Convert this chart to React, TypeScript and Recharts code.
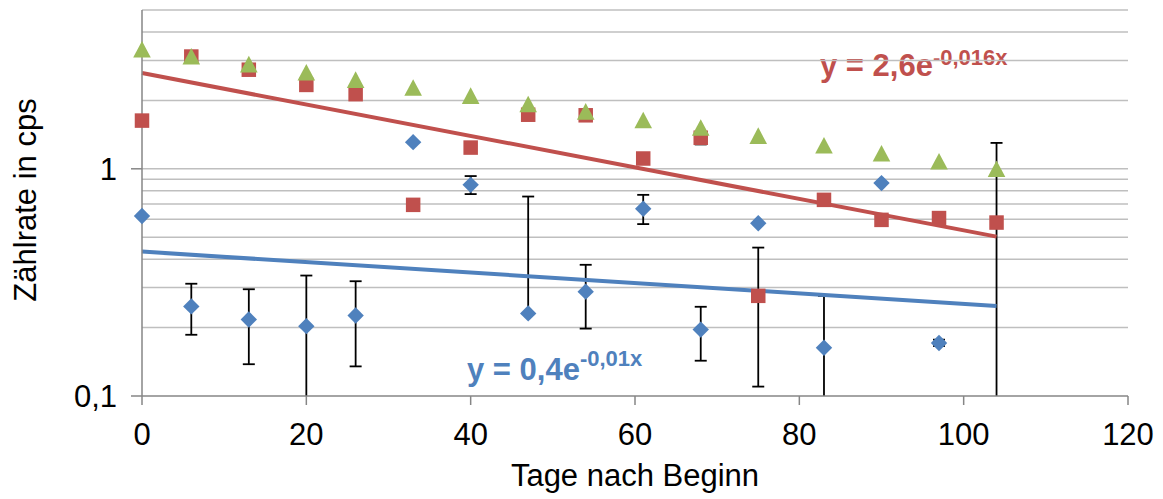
import React from 'react';
import {
  ComposedChart,
  Scatter,
  Line,
  XAxis,
  YAxis,
  ReferenceLine,
  ErrorBar,
  Label,
  Customized,
} from 'recharts';

// ---- data ----
const blueDays = [0, 6, 13, 20, 26, 33, 40, 47, 54, 61, 68, 75, 83, 90, 97];
const blueRate = [0.62, 0.248, 0.217, 0.203, 0.226, 1.31, 0.85, 0.231, 0.288, 0.667, 0.196, 0.576, 0.163, 0.865, 0.171];
const blueLow = [null, 0.186, 0.138, 0.05, 0.135, null, 0.774, null, 0.198, 0.571, 0.143, null, 0.05, null, 0.166];
const blueHigh = [null, 0.312, 0.295, 0.339, 0.32, null, 0.929, 0.755, 0.378, 0.768, 0.247, null, 0.276, null, 0.177];

const redDays = [0, 6, 13, 20, 26, 33, 40, 47, 54, 61, 68, 75, 83, 90, 97, 104];
const redRate = [1.63, 3.12, 2.73, 2.34, 2.13, 0.694, 1.24, 1.73, 1.72, 1.11, 1.37, 0.276, 0.73, 0.596, 0.607, 0.58];
const redLow = [null, null, null, null, null, null, null, null, null, null, 1.28, 0.11, null, null, null, 0.05];
const redHigh = [null, null, null, null, null, null, null, null, null, null, 1.45, 0.45, null, null, null, 1.3];

const greenDays = [0, 6, 13, 20, 26, 33, 40, 47, 54, 61, 68, 75, 83, 90, 97, 104];
const greenRate = [3.36, 3.13, 2.89, 2.66, 2.47, 2.28, 2.1, 1.93, 1.79, 1.64, 1.52, 1.4, 1.27, 1.17, 1.08, 1.0];

const trendDays = [0, 104];
const redTrendRate = [2.64, 0.503];
const blueTrendRate = [0.432, 0.249];

const xTicks = [0, 20, 40, 60, 80, 100, 120];
const yTicks = [0.1, 1];
const gridValues = [0.2, 0.3, 0.4, 0.5, 0.6, 0.7, 0.8, 0.9, 1, 2, 3, 4, 5];

const Y_MIN = 0.1;
const Y_MAX = 5;

const BLUE = '#4F81BD';
const RED = '#C0504D';
const GREEN = '#9BBB59';
const FONT = '"Liberation Sans", Arial, sans-serif';

function build(xs: number[], ys: number[], lows?: (number | null)[], highs?: (number | null)[]) {
  return xs.map((x, i) => {
    const y = ys[i];
    const lo = lows ? lows[i] : null;
    const hi = highs ? highs[i] : null;
    const row: any = { x, y };
    if (lo !== null || hi !== null) {
      const up = hi !== null ? hi - y : 0;
      if (lo !== null && lo < Y_MIN) {
        row.errCapped = [0, up];
        row.errTail = [y - Y_MIN, 0];
      } else {
        row.err = [lo !== null ? y - lo : 0, up];
      }
    }
    return row;
  });
}

const blueData = build(blueDays, blueRate, blueLow, blueHigh);
const redData = build(redDays, redRate, redLow, redHigh);
const greenData = build(greenDays, greenRate);
const redTrend = trendDays.map((x, i) => ({ x, y: redTrendRate[i] }));
const blueTrend = trendDays.map((x, i) => ({ x, y: blueTrendRate[i] }));

const Diamond = (p: any) => {
  const { cx, cy } = p;
  const r = 8.2;
  return <polygon points={`${cx},${cy - r} ${cx + r},${cy} ${cx},${cy + r} ${cx - r},${cy}`} fill={BLUE} />;
};
const Square = (p: any) => {
  const { cx, cy } = p;
  const s = 14.5;
  return <rect x={cx - s / 2} y={cy - s / 2} width={s} height={s} fill={RED} />;
};
const Triangle = (p: any) => {
  const { cx, cy } = p;
  const w = 8.8;
  const h = 8.3;
  return <polygon points={`${cx},${cy - h} ${cx + w},${cy + h} ${cx - w},${cy + h}`} fill={GREEN} />;
};
const Nothing = () => <g />;

const Equations = () => (
  <g fontFamily={FONT} fontWeight="bold">
    <text x={812} y={68} fill={RED} fontSize={31}>
      y = 2,6e
      <tspan dy={-11} fontSize={22}>-0,016x</tspan>
    </text>
    <text x={459} y={372} fill={BLUE} fontSize={31}>
      y = 0,4e
      <tspan dy={-14} fontSize={22}>-0,01x</tspan>
    </text>
  </g>
);

const fmtY = (v: number) => String(v).replace('.', ',');

const errBars = [
  <ErrorBar key="a" dataKey="err" direction="y" width={6} stroke="#000" strokeWidth={1.8} />,
  <ErrorBar key="b" dataKey="errCapped" direction="y" width={6} stroke="#000" strokeWidth={1.8} />,
  <ErrorBar key="c" dataKey="errTail" direction="y" width={0} stroke="#000" strokeWidth={1.8} />,
];

export default function App() {
  return (
    <div style={{ width: 1147, height: 491 }}>
      <ComposedChart
        width={1147}
        height={491}
        margin={{ top: 2, right: 27, bottom: 0, left: 0 }}
        style={{ fontFamily: FONT }}
      >
        <XAxis
          type="number"
          dataKey="x"
          domain={[0, 120]}
          ticks={xTicks}
          height={103}
          axisLine={{ stroke: '#868686', strokeWidth: 1.5 }}
          tickLine={{ stroke: '#868686', strokeWidth: 1.5 }}
          tickSize={9}
          tickMargin={18}
          tick={{ fontSize: 31, fill: '#000', fontFamily: FONT }}
          interval={0}
        >
          <Label
            content={(props: any) => {
              const vb = props.viewBox || { x: 134, y: 388, width: 986 };
              return (
                <text x={vb.x + vb.width / 2} y={vb.y + 90} textAnchor="middle" fontSize={31} fontFamily={FONT} fill="#000">
                  Tage nach Beginn
                </text>
              );
            }}
          />
        </XAxis>
        <YAxis
          type="number"
          dataKey="y"
          scale="log"
          domain={[Y_MIN, Y_MAX]}
          allowDataOverflow
          ticks={yTicks}
          tickFormatter={fmtY}
          width={134}
          axisLine={{ stroke: '#868686', strokeWidth: 1.5 }}
          tickLine={{ stroke: '#868686', strokeWidth: 1.5 }}
          tickSize={11}
          tickMargin={14}
          tick={{ fontSize: 31, fill: '#000', fontFamily: FONT }}
          interval={0}
        >
          <Label
            content={(props: any) => {
              const vb = props.viewBox || { x: 0, y: 2, height: 386 };
              const cx = 28;
              const cy = vb.y + vb.height / 2 - 3;
              return (
                <text x={cx} y={cy} textAnchor="middle" fontSize={31} fontFamily={FONT} fill="#000" transform={`rotate(-90, ${cx}, ${cy})`}>
                  Zählrate in cps
                </text>
              );
            }}
          />
        </YAxis>
        {gridValues.map((v) => (
          <ReferenceLine key={v} y={v} stroke="#BFBFBF" strokeWidth={1.5} />
        ))}
        <Scatter data={blueData} dataKey="y" shape={Nothing} isAnimationActive={false}>
          {errBars}
        </Scatter>
        <Scatter data={redData} dataKey="y" shape={Nothing} isAnimationActive={false}>
          {errBars}
        </Scatter>
        <Line data={redTrend} dataKey="y" stroke={RED} strokeWidth={4} dot={false} isAnimationActive={false} />
        <Line data={blueTrend} dataKey="y" stroke={BLUE} strokeWidth={4} dot={false} isAnimationActive={false} />
        <Scatter data={blueData} dataKey="y" shape={Diamond} isAnimationActive={false} />
        <Scatter data={redData} dataKey="y" shape={Square} isAnimationActive={false} />
        <Scatter data={greenData} dataKey="y" shape={Triangle} isAnimationActive={false} />
        <Customized component={Equations} />
      </ComposedChart>
    </div>
  );
}
